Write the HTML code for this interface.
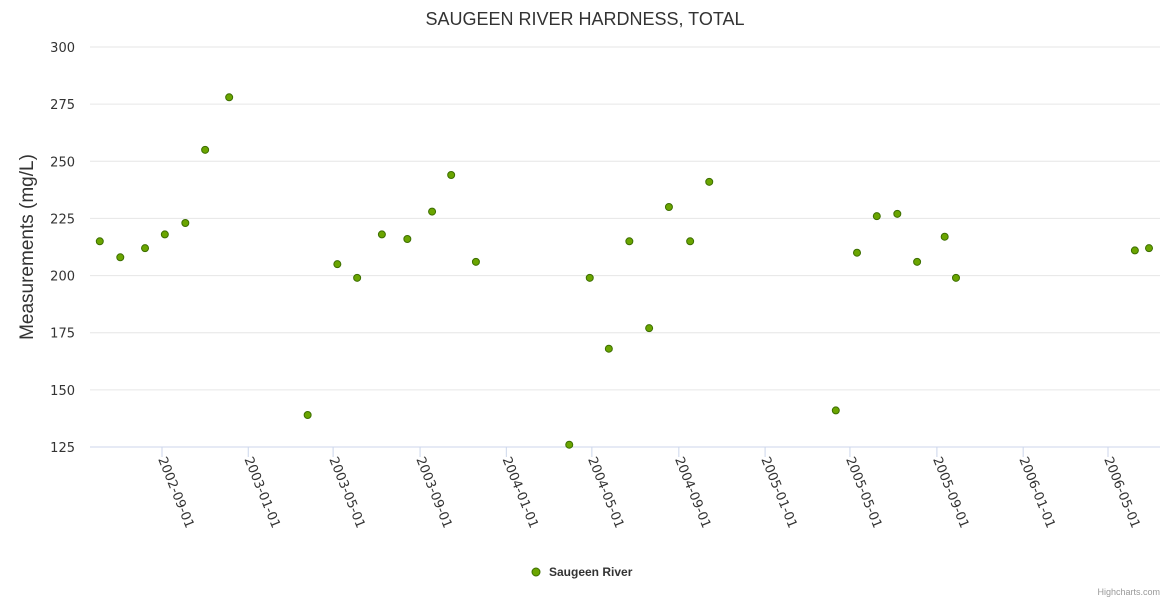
<!DOCTYPE html>
<html><head><meta charset="utf-8"><style>
body{margin:0;background:#fff;font-family:"Liberation Sans",sans-serif}
svg text{font-family:"Liberation Sans",sans-serif}
svg text.tk{font-family:"DejaVu Sans",sans-serif}
</style></head><body>
<svg id="c" width="1170" height="600">
<text x="585" y="25" text-anchor="middle" font-size="18" fill="#333">SAUGEEN RIVER HARDNESS, TOTAL</text>
<text transform="translate(33,247) rotate(-90)" text-anchor="middle" font-size="19" fill="#333">Measurements (mg/L)</text>
<g id="grid"></g><g id="xax"></g><g id="pts"></g>
<g>
<circle cx="536" cy="572" r="4" fill="#6aa500" stroke="#3c6e00" stroke-width="1"/>
<text x="549" y="576" font-size="12" font-weight="bold" fill="#333">Saugeen River</text></g>
<text x="1160" y="595" text-anchor="end" font-size="9" fill="#999">Highcharts.com</text>
</svg>
<script>
const dates=["2002-06-05","2002-07-04","2002-08-08","2002-09-05","2002-10-04","2002-11-01","2002-12-05","2003-03-26","2003-05-07","2003-06-04","2003-07-09","2003-08-14","2003-09-18","2003-10-15","2003-11-19","2004-03-30","2004-04-28","2004-05-25","2004-06-23","2004-07-21","2004-08-18","2004-09-17","2004-10-14","2005-04-11","2005-05-11","2005-06-08","2005-07-07","2005-08-04","2005-09-12","2005-09-28","2006-06-08","2006-06-28"];
const values=[215,208,212,218,223,255,278,139,205,199,218,216,228,244,206,126,199,168,215,177,230,215,241,141,210,226,227,206,217,199,211,212];
const yTicks=[125,150,175,200,225,250,275,300];
const xTicks=["2002-09-01","2003-01-01","2003-05-01","2003-09-01","2004-01-01","2004-05-01","2004-09-01","2005-01-01","2005-05-01","2005-09-01","2006-01-01","2006-05-01"];
const NS="http://www.w3.org/2000/svg";
const t0=Date.UTC(2002,8,1), pxDay=946/1338;
function xs(d){const p=d.split("-");return 162+(Date.UTC(+p[0],p[1]-1,+p[2])-t0)/864e5*pxDay;}
function ys(v){return 447-(v-125)*400/175;}
function mk(tag,at,par){const e=document.createElementNS(NS,tag);for(const k in at)e.setAttribute(k,at[k]);par.appendChild(e);return e;}
const grid=document.getElementById("grid"),xax=document.getElementById("xax"),pts=document.getElementById("pts");
yTicks.forEach(v=>{
 const l=mk("line",{x1:90,x2:1160,y1:ys(v),y2:ys(v),stroke:v==125?"#ccd6eb":"#e6e6e6","stroke-width":1},grid);
 
 
 const t=mk("text",{class:"tk",x:75,y:ys(v)+5,"text-anchor":"end","font-size":13,fill:"#333"},grid);
 t.textContent=v;
 
 
});
xTicks.forEach(d=>{
 const x=xs(d);
 const l=mk("line",{x1:x,x2:x,y1:447,y2:457,stroke:"#ccd6eb"},xax);
 
 
 const t=mk("text",{class:"tk",transform:`translate(${x-4},${459}) rotate(68)`,"font-size":13,fill:"#333"},xax);
 t.textContent=d;
 
 
});
dates.forEach((d,i)=>{
 const c=mk("circle",{cx:xs(d),cy:ys(values[i]),r:3.5,fill:"#6aa500",stroke:"#3c6e00","stroke-width":1},pts);
 
 
});
</script>
</body></html>
